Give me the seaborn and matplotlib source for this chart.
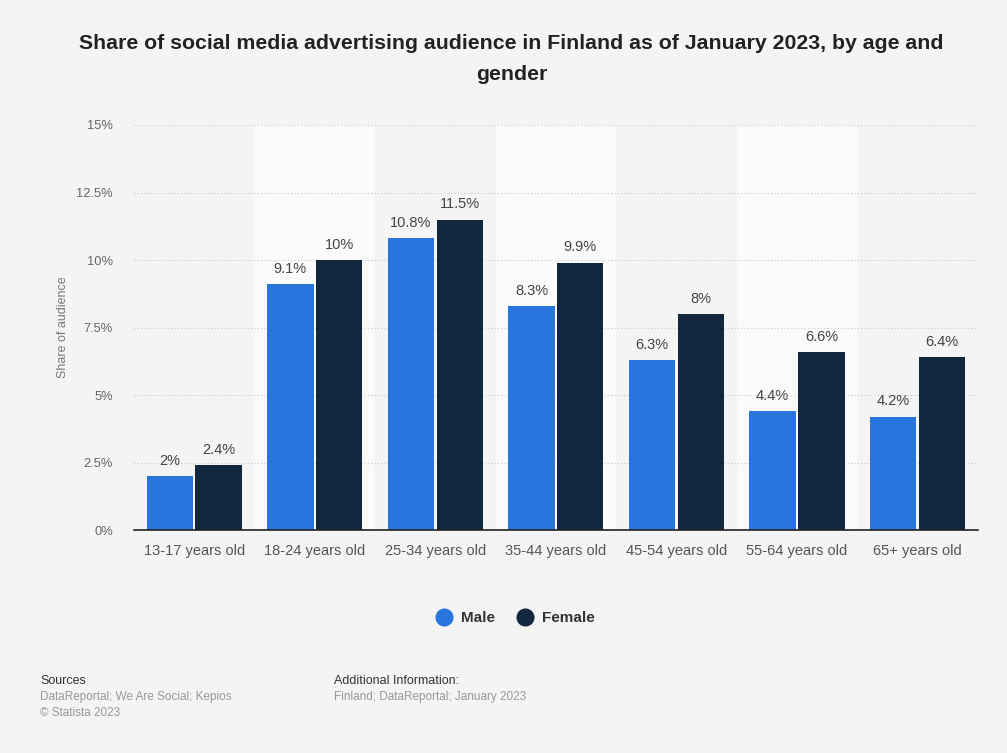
import matplotlib
matplotlib.use("Agg")
import matplotlib.pyplot as plt
from matplotlib.lines import Line2D
import seaborn as sns
import pandas as pd

age_groups = ["13-17 years old", "18-24 years old", "25-34 years old", "35-44 years old",
              "45-54 years old", "55-64 years old", "65+ years old"]
male = [2.0, 9.1, 10.8, 8.3, 6.3, 4.4, 4.2]
female = [2.4, 10.0, 11.5, 9.9, 8.0, 6.6, 6.4]
genders = ["Male", "Female"]
y_ticks = [0, 2.5, 5, 7.5, 10, 12.5, 15]
y_tick_labels = ["0%", "2.5%", "5%", "7.5%", "10%", "12.5%", "15%"]

colors = {"Male": "#2876dd", "Female": "#12263d"}
bg = "#f4f4f4"

df = pd.DataFrame({
    "age": age_groups * 2,
    "gender": ["Male"] * len(age_groups) + ["Female"] * len(age_groups),
    "share": male + female,
})

sns.set_theme(style="white")
plt.rcParams["font.family"] = ["Liberation Sans", "DejaVu Sans"]

fig = plt.figure(figsize=(10.07, 7.53), dpi=100, facecolor=bg)
ax = fig.add_axes([0.133, 0.296, 0.838, 0.538])
ax.set_facecolor(bg)

# alternating column bands
for i in range(len(age_groups)):
    if i % 2 == 1:
        ax.axvspan(i - 0.5, i + 0.5, color="#fafafa", zorder=0, lw=0)

sns.barplot(data=df, x="age", y="share", hue="gender", hue_order=genders,
            palette=colors, width=0.81, gap=0.05, saturation=1, ax=ax,
            legend=False, zorder=3, linewidth=0)

for cont in ax.containers:
    ax.bar_label(cont, labels=[f"{v:g}%" for v in cont.datavalues], padding=6,
                 fontsize=10.5, color="#444444")

ax.set_xlim(-0.5, len(age_groups) - 0.5)
ax.set_ylim(0, 15)
ax.set_yticks(y_ticks)
ax.set_yticklabels(y_tick_labels, fontsize=9.3, color="#666666")
ax.tick_params(axis="y", length=0, pad=15)
ax.tick_params(axis="x", length=0, pad=10, labelsize=10.5, labelcolor="#555555")
ax.yaxis.grid(True, linestyle=(0, (1, 2)), color="#c8c8c8", linewidth=0.8, zorder=1)
ax.set_axisbelow(True)
for s in ["top", "right", "left"]:
    ax.spines[s].set_visible(False)
ax.spines["bottom"].set_color("#222222")
ax.spines["bottom"].set_linewidth(1.2)
ax.spines["bottom"].set_zorder(5)
ax.set_xlabel("")
ax.set_ylabel("Share of audience", fontsize=9, color="#777777")
ax.yaxis.set_label_coords(-0.077, 0.5)

fig.text(0.508, 0.922, "Share of social media advertising audience in Finland as of January 2023, by age and\ngender",
         ha="center", va="center", fontsize=15.3, fontweight="bold", color="#222222", linespacing=1.8)

handles = [Line2D([0], [0], marker="o", linestyle="", markersize=12,
                  markerfacecolor=colors[g], markeredgecolor=colors[g]) for g in genders]
fig.legend(handles, genders, loc="center", bbox_to_anchor=(0.508, 0.179), ncol=2,
           frameon=False, handletextpad=0.1, columnspacing=1.0,
           prop={"weight": "bold", "size": 11}, labelcolor="#333333")

fig.text(0.040, 0.095, "Sources", fontsize=9, color="#333333", va="center")
fig.text(0.040, 0.074, "DataReportal; We Are Social; Kepios", fontsize=8.5, color="#999999", va="center")
fig.text(0.040, 0.053, "\u00a9 Statista 2023", fontsize=8.5, color="#999999", va="center")
fig.text(0.332, 0.095, "Additional Information:", fontsize=9, color="#333333", va="center")
fig.text(0.332, 0.074, "Finland; DataReportal; January 2023", fontsize=8.5, color="#999999", va="center")

fig.savefig("out.png", dpi=100, facecolor=bg)
